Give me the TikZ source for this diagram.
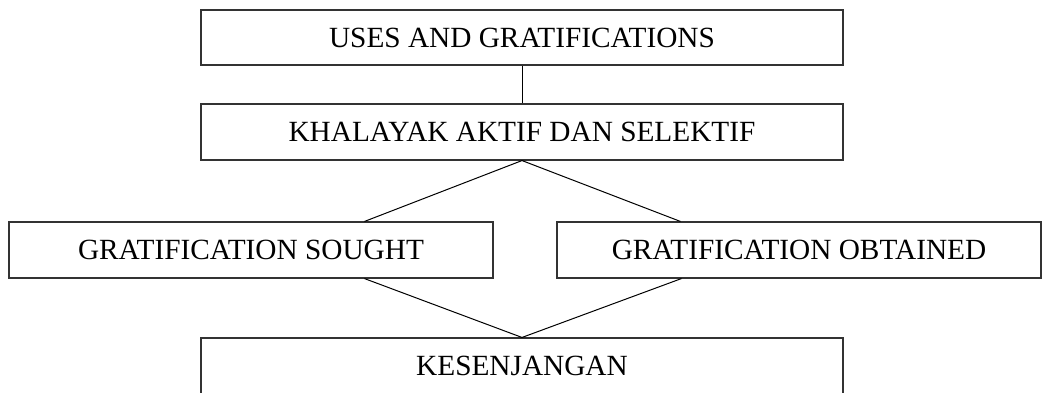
\documentclass[tikz,border=0pt]{standalone}
\usepackage{fontspec}
\setmainfont{Liberation Serif}
\begin{document}
\begin{tikzpicture}[x=1pt,y=-1pt,
  box/.style={draw=black!80, line width=1.1pt, rectangle, inner sep=0pt,
    minimum height=56pt, font=\fontsize{29.3}{33}\selectfont},
  wide/.style={box, minimum width=642pt},
  half/.style={box, minimum width=484pt},
  conn/.style={draw=black, line width=1pt}]
\useasboundingbox (0,0) rectangle (1042,392);
\clip (0,0) rectangle (1042,392);
\node[wide, minimum height=55pt] (b1) at (522,37.5) {USES AND GRATIFICATIONS};
\node[wide] (b2) at (522,132) {KHALAYAK AKTIF DAN SELEKTIF};
\node[half] (b3) at (251,250) {GRATIFICATION SOUGHT};
\node[half] (b4) at (799,250) {GRATIFICATION OBTAINED};
\node[wide] (b5) at (522,366) {KESENJANGAN};
\path (b3.north west) ++(356,0) coordinate (b3t);
\path (b4.north west) ++(124,0) coordinate (b4t);
\path (b3.south west) ++(356,0) coordinate (b3b);
\path (b4.south west) ++(125,0) coordinate (b4b);
\draw[conn] (b1.south) -- (b2.north);
\draw[conn] (b3t) -- (b2.south) -- (b4t);
\draw[conn] (b3b) -- (b5.north) -- (b4b);
\end{tikzpicture}
\end{document}
